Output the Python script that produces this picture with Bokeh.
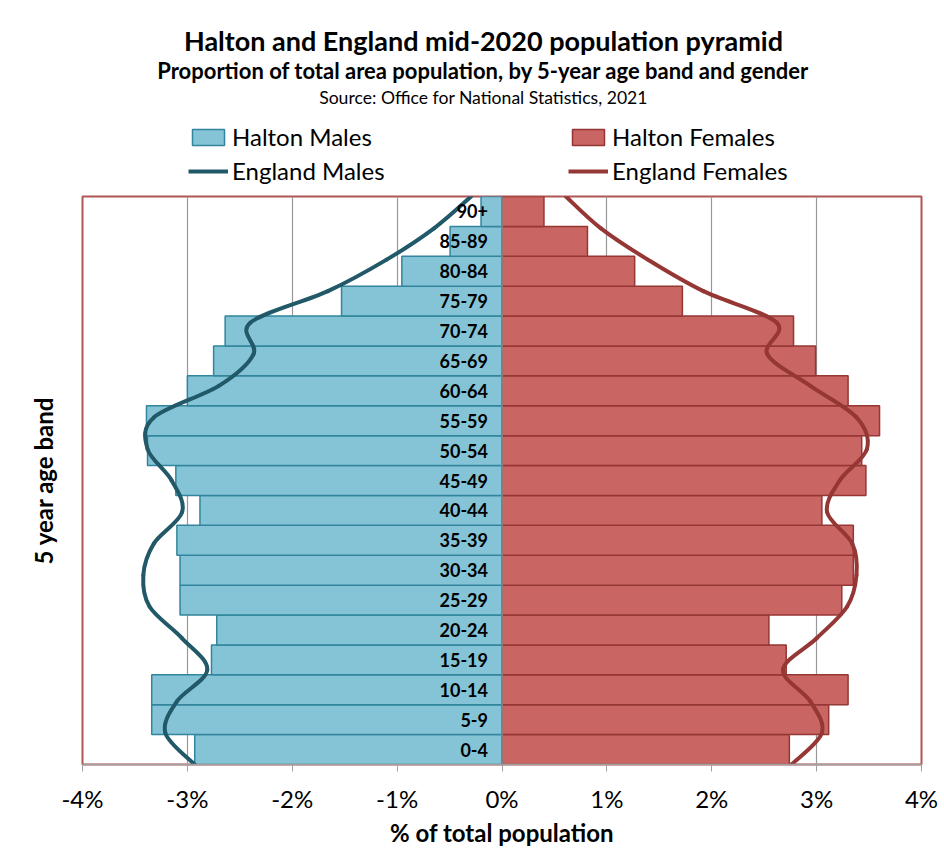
from bokeh.plotting import figure
from bokeh.layouts import column
from bokeh.models import (Range1d, FixedTicker, CustomJSTickFormatter, Span, Label,
                          Legend, LegendItem, ColumnDataSource)
from bokeh.core.properties import value
from bokeh.embed import file_html
from bokeh.resources import INLINE

# ---------------- data ----------------
ages = ["0-4", "5-9", "10-14", "15-19", "20-24", "25-29", "30-34", "35-39", "40-44",
        "45-49", "50-54", "55-59", "60-64", "65-69", "70-74", "75-79", "80-84", "85-89", "90+"]
halton_males = [-2.93, -3.34, -3.34, -2.77, -2.72, -3.07, -3.07, -3.10, -2.88, -3.11,
                -3.38, -3.39, -3.00, -2.75, -2.64, -1.53, -0.955, -0.495, -0.20]
halton_females = [2.74, 3.115, 3.30, 2.71, 2.545, 3.24, 3.35, 3.35, 3.05, 3.47,
                  3.43, 3.60, 3.30, 2.99, 2.78, 1.72, 1.265, 0.815, 0.40]
england_males = [-2.93, -3.21, -3.10, -2.81, -3.05, -3.36, -3.42, -3.32, -3.05, -3.15,
                 -3.38, -3.32, -2.70, -2.37, -2.40, -1.66, -1.10, -0.645, -0.295]
england_females = [2.76, 3.05, 2.94, 2.68, 3.00, 3.29, 3.38, 3.34, 3.10, 3.22,
                   3.48, 3.38, 2.94, 2.53, 2.62, 1.92, 1.39, 0.94, 0.61]
x_ticks = [-4, -3, -2, -1, 0, 1, 2, 3, 4]

title_text = "Halton and England mid-2020 population pyramid"
subtitle_text = "Proportion of total area population, by 5-year age band and gender"
source_text = "Source: Office for National Statistics, 2021"
y_label = "5 year age band"
x_label = "% of total population"
legend_labels = ["Halton Males", "England Males", "Halton Females", "England Females"]

FONT = "Lato"
M_FILL, M_LINE = "#85c4d7", "#31859c"
F_FILL, F_LINE = "#c96562", "#953735"
EM_COLOR, EF_COLOR = "#215968", "#953735"

n = len(ages)
idx = list(range(n))
NAN = float("nan")

# ---------------- header: titles + legend ----------------
# (its frame is aligned by the column layout with the main plot frame, which starts 82px in)
HEAD_H = 195
head = figure(width=944, height=HEAD_H, x_range=Range1d(0, 1), y_range=Range1d(0, 1),
              x_axis_type=None, y_axis_type=None, min_border=0,
              output_backend="svg", toolbar_location=None)
head.outline_line_color = None
head.background_fill_color = "white"
head.border_fill_color = "white"

for text, cy, size, style in ((title_text, 40, "27px", "bold"),
                              (subtitle_text, 70, "22px", "bold"),
                              (source_text, 97, "17.6px", "normal")):
    head.add_layout(Label(x=401, y=HEAD_H - cy, x_units="screen", y_units="screen", text=text,
                          text_align="center", text_baseline="middle",
                          text_font=FONT, text_font_size=size, text_font_style=style,
                          text_color="#000000"))

lg_hm = head.hbar(y=[NAN], left=[NAN], right=[NAN], height=1, fill_color=M_FILL,
                  line_color=M_LINE, line_width=1.5)
lg_hf = head.hbar(y=[NAN], left=[NAN], right=[NAN], height=1, fill_color=F_FILL,
                  line_color=F_LINE, line_width=1.5)
lg_em = head.line(x=[NAN], y=[NAN], line_color=EM_COLOR, line_width=4)
lg_ef = head.line(x=[NAN], y=[NAN], line_color=EF_COLOR, line_width=4)

legend = Legend(items=[LegendItem(label=legend_labels[0], renderers=[lg_hm]),
                       LegendItem(label=legend_labels[1], renderers=[lg_em]),
                       LegendItem(label=legend_labels[2], renderers=[lg_hf]),
                       LegendItem(label=legend_labels[3], renderers=[lg_ef])],
                location=(106, 10), orientation="vertical", ncols=2, nrows=2,
                glyph_width=40, glyph_height=20, label_height=29, label_standoff=4,
                label_width=331, spacing=5, padding=0, margin=0,
                label_text_font=FONT, label_text_font_size="24px", label_text_color="#000000",
                border_line_color=None, background_fill_alpha=0)
head.add_layout(legend)

# ---------------- main pyramid ----------------
p = figure(width=944, height=854 - HEAD_H,
           x_range=Range1d(-4, 4),
           y_range=Range1d(-0.5, n - 0.5),
           min_border_left=82, min_border_right=23, min_border_top=1, min_border_bottom=90,
           output_backend="svg", toolbar_location=None)
# England lines sit on an Excel-style secondary category axis "on tick marks"
p.extra_y_ranges = {"line": Range1d(0, n - 1)}

src = ColumnDataSource(dict(pos=idx, age=ages, hm=halton_males, hf=halton_females,
                            zero=[0] * n))

p.hbar(y="pos", left="hm", right="zero", height=1.0, source=src,
       fill_color=M_FILL, line_color=M_LINE, line_width=1.5)
p.hbar(y="pos", left="zero", right="hf", height=1.0, source=src,
       fill_color=F_FILL, line_color=F_LINE, line_width=1.5)

p.add_layout(Span(location=0, dimension="height", line_color="#8c8c8c", line_width=1.5))


def smooth_segments(xs):
    # Excel-like smoothed line: cubic Bezier between successive points (Catmull-Rom)
    m = len(xs)
    ys = list(range(m))
    seg = dict(x0=[], y0=[], x1=[], y1=[], cx0=[], cy0=[], cx1=[], cy1=[])
    for i in range(m - 1):
        pm = (xs[max(i - 1, 0)], ys[max(i - 1, 0)])
        p0 = (xs[i], ys[i])
        p1 = (xs[i + 1], ys[i + 1])
        p2 = (xs[min(i + 2, m - 1)], ys[min(i + 2, m - 1)])
        seg["x0"].append(p0[0]); seg["y0"].append(p0[1])
        seg["x1"].append(p1[0]); seg["y1"].append(p1[1])
        seg["cx0"].append(p0[0] + (p1[0] - pm[0]) / 6); seg["cy0"].append(p0[1] + (p1[1] - pm[1]) / 6)
        seg["cx1"].append(p1[0] - (p2[0] - p0[0]) / 6); seg["cy1"].append(p1[1] - (p2[1] - p0[1]) / 6)
    return seg


for data, col in ((england_males, EM_COLOR), (england_females, EF_COLOR)):
    p.bezier(source=ColumnDataSource(smooth_segments(data)), x0="x0", y0="y0", x1="x1", y1="y1",
             cx0="cx0", cy0="cy0", cx1="cx1", cy1="cy1",
             line_color=col, line_width=4, line_cap="round", y_range_name="line")

# age labels next to the zero axis
p.text(x="zero", y="pos", text="age", source=src, x_offset=-14,
       text_align="right", text_baseline="middle", text_font=value(FONT),
       text_font_style="bold", text_font_size="18px", text_color="#000000")

# y axis: only its title
p.yaxis.ticker = FixedTicker(ticks=[])
p.yaxis.axis_line_color = None
p.yaxis.major_tick_line_color = None
p.yaxis.minor_tick_line_color = None
p.yaxis.axis_label = y_label
p.yaxis.axis_label_text_font = FONT
p.yaxis.axis_label_text_font_size = "24px"
p.yaxis.axis_label_text_font_style = "bold"
p.yaxis.axis_label_text_color = "#000000"
p.yaxis.axis_label_standoff = 25

# x axis
p.xaxis.ticker = FixedTicker(ticks=x_ticks)
p.xaxis.formatter = CustomJSTickFormatter(code="return tick + '%'")
p.xaxis.minor_tick_line_color = None
p.xaxis.major_tick_in = 0
p.xaxis.major_tick_out = 7
p.xaxis.axis_line_color = "#a0a0a0"
p.xaxis.major_tick_line_color = "#a0a0a0"
p.xaxis.axis_line_width = 1.5
p.xaxis.major_label_text_font = FONT
p.xaxis.major_label_text_font_size = "24px"
p.xaxis.major_label_text_color = "#000000"
p.xaxis.major_label_standoff = 12
p.xaxis.axis_label = x_label
p.xaxis.axis_label_text_font = FONT
p.xaxis.axis_label_text_font_size = "24px"
p.xaxis.axis_label_text_font_style = "bold"
p.xaxis.axis_label_text_color = "#000000"
p.xaxis.axis_label_standoff = 2

p.xgrid.ticker = FixedTicker(ticks=x_ticks)
p.xgrid.grid_line_color = "#999999"
p.xgrid.grid_line_width = 1.2
p.ygrid.grid_line_color = None

p.outline_line_color = "#b05654"
p.outline_line_width = 2
p.background_fill_color = "white"
p.border_fill_color = "white"

layout = column(head, p, spacing=0)
open("out.html", "w").write(file_html(layout, INLINE))
